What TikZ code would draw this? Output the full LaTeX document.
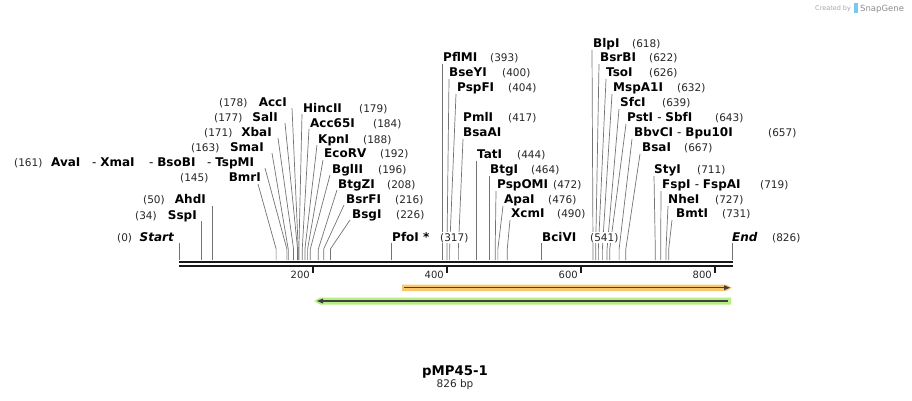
\documentclass[tikz,border=0pt]{standalone}
\usepackage{fontspec}
\setmainfont{DejaVu Sans}
\begin{document}
\begin{tikzpicture}[x=1pt,y=-1pt,
  cutl/.style={draw=black!55,line width=0.7pt},
  nm/.style={font=\bfseries\fontsize{12}{14}\selectfont,inner sep=0pt,anchor=base west},
  nmr/.style={nm,anchor=base east},
  num/.style={font=\fontsize{10.5}{12}\selectfont,text=black!85,fill=white,inner sep=1pt,anchor=base west},
  axisl/.style={draw=black!90,line width=2.2pt},
  tickl/.style={draw=black!90,line width=1.8pt},
  ticklab/.style={font=\fontsize{10}{12}\selectfont,inner sep=0pt,anchor=base east,text=black!85}]
\useasboundingbox (0,0) rectangle (912,400);
\newcommand\sx[1]{179+0.6699*#1}
\newcommand\cutline[2]{\draw[cutl] (#1) -- ({\sx{#2}},249) -- ({\sx{#2}},260);}
\newcommand\vcut[2]{\draw[cutl] ({\sx{#1}},#2) -- ({\sx{#1}},260);}
% cut lines
\vcut{0}{243}
\vcut{34}{221}
\vcut{50}{206}
\cutline{258,184}{145}
\cutline{265,168}{161}
\cutline{272,153}{163}
\cutline{278,138}{171}
\cutline{285,123}{177}
\cutline{292,108}{178}
\cutline{302,114}{179}
\cutline{309,129}{184}
\cutline{317,145}{188}
\cutline{323,160}{192}
\cutline{330,175}{196}
\cutline{337,190}{208}
\cutline{344,205}{216}
\cutline{350,220}{226}
\vcut{317}{243}
\vcut{393}{64}
\cutline{449,79}{400}
\cutline{456,94}{404}
\cutline{463,139}{417}
\vcut{444}{161}
\vcut{464}{176}
\cutline{496,191}{472}
\cutline{503,206}{476}
\cutline{510,220}{490}
\vcut{541}{243}
\cutline{592,50}{618}
\cutline{599,64}{622}
\cutline{606,79}{626}
\cutline{612,94}{632}
\cutline{619,109}{639}
\cutline{626,124}{643}
\cutline{632,139}{657}
\cutline{640,154}{667}
\cutline{654,176}{711}
\cutline{661,191}{719}
\cutline{668,206}{727}
\cutline{672,220}{731}
\vcut{826}{243}
% axis
\coordinate (a0) at (179,262);
\coordinate (a1) at (733,262);
\coordinate (b0) at (179,266);
\coordinate (b1) at (733,266);
\draw[axisl] (a0) -- (a1);
\draw[axisl] (b0) -- (b1);
\foreach \t in {200,400,600,800}{
  \draw[tickl] ({\sx{\t}},266) -- ({\sx{\t}},273);
  \node[ticklab] (tl\t) at ({\sx{\t}-3},278) {\t};
}
% left labels
\node[num] (n178) at (218,106) {(178)};
\node[nmr] (accI) at (287,106) {AccI};
\node[num] (n177) at (213,121) {(177)};
\node[nmr] (salI) at (278,121) {SalI};
\node[num] (n171) at (203,136) {(171)};
\node[nmr] (xbaI) at (272,136) {XbaI};
\node[num] (n163) at (190,151) {(163)};
\node[nmr] (smaI) at (264,151) {SmaI};
\node[num] (n161) at (13,166) {(161)};
\node[nm] (avaI) at (51,166) {AvaI};
\node[nm] (xmaI) at (92,166) {\mdseries -\ \bfseries XmaI};
\node[nm] (bsoBI) at (149,166) {\mdseries -\ \bfseries BsoBI};
\node[nm] (tspMI) at (207,166) {\mdseries -\ \bfseries TspMI};
\node[num] (n145) at (179,181) {(145)};
\node[nmr] (bmrI) at (261,181) {BmrI};
\node[num] (n50) at (142,203) {(50)};
\node[nmr] (ahdI) at (206,203) {AhdI};
\node[num] (n34) at (134,219) {(34)};
\node[nmr] (sspI) at (197,219) {SspI};
\node[num] (n0) at (116,241) {(0)};
\node[nmr] (start) at (174,241) {\itshape Start};
% right cluster
\node[nm] (hincII) at (303,112) {HincII};
\node[num] (n179) at (358,112) {(179)};
\node[nm] (acc65I) at (310,127) {Acc65I};
\node[num] (n184) at (372,127) {(184)};
\node[nm] (kpnI) at (318,143) {KpnI};
\node[num] (n188) at (362,143) {(188)};
\node[nm] (ecoRV) at (324,157) {EcoRV};
\node[num] (n192) at (379,157) {(192)};
\node[nm] (bglII) at (332,173) {BglII};
\node[num] (n196) at (377,173) {(196)};
\node[nm] (btgZI) at (338,188) {BtgZI};
\node[num] (n208) at (386,188) {(208)};
\node[nm] (bsrFI) at (346,203) {BsrFI};
\node[num] (n216) at (394,203) {(216)};
\node[nm] (bsgI) at (352,218) {BsgI};
\node[num] (n226) at (395,218) {(226)};
\node[nm] (pfoI) at (392,241) {PfoI *};
\node[num] (n317) at (439,241) {(317)};
% middle
\node[nm] (pflMI) at (443,61) {PflMI};
\node[num] (n393) at (489,61) {(393)};
\node[nm] (bseYI) at (449,76) {BseYI};
\node[num] (n400) at (501,76) {(400)};
\node[nm] (pspFI) at (457,91) {PspFI};
\node[num] (n404) at (507,91) {(404)};
\node[nm] (pmlI) at (463,121) {PmlI};
\node[num] (n417) at (507,121) {(417)};
\node[nm] (bsaAI) at (463,136) {BsaAI};
\node[nm] (tatI) at (477,158) {TatI};
\node[num] (n444) at (516,158) {(444)};
\node[nm] (btgI) at (490,173) {BtgI};
\node[num] (n464) at (530,173) {(464)};
\node[nm] (pspOMI) at (497,188) {PspOMI};
\node[num] (n472) at (552,188) {(472)};
\node[nm] (apaI) at (504,203) {ApaI};
\node[num] (n476) at (547,203) {(476)};
\node[nm] (xcmI) at (511,217) {XcmI};
\node[num] (n490) at (556,217) {(490)};
\node[nm] (bciVI) at (542,241) {BciVI};
\node[num] (n541) at (589,241) {(541)};
% right
\node[nm] (blpI) at (593,47) {BlpI};
\node[num] (n618) at (631,47) {(618)};
\node[nm] (bsrBI) at (600,61) {BsrBI};
\node[num] (n622) at (648,61) {(622)};
\node[nm] (tsoI) at (606,76) {TsoI};
\node[num] (n626) at (648,76) {(626)};
\node[nm] (mspA1I) at (613,91) {MspA1I};
\node[num] (n632) at (676,91) {(632)};
\node[nm] (sfcI) at (620,106) {SfcI};
\node[num] (n639) at (661,106) {(639)};
\node[nm] (pstI) at (627,121) {PstI \mdseries -\ \bfseries SbfI};
\node[num] (n643) at (714,121) {(643)};
\node[nm] (bbvCI) at (634,136) {BbvCI \mdseries -\ \bfseries Bpu10I};
\node[num] (n657) at (767,136) {(657)};
\node[nm] (bsaI) at (642,151) {BsaI};
\node[num] (n667) at (683,151) {(667)};
\node[nm] (styI) at (654,173) {StyI};
\node[num] (n711) at (696,173) {(711)};
\node[nm] (fspI) at (662,188) {FspI \mdseries -\ \bfseries FspAI};
\node[num] (n719) at (759,188) {(719)};
\node[nm] (nheI) at (668,203) {NheI};
\node[num] (n727) at (714,203) {(727)};
\node[nm] (bmtI) at (676,217) {BmtI};
\node[num] (n731) at (721,217) {(731)};
\node[nm] (endl) at (732,241) {\itshape End};
\node[num] (n826) at (771,241) {(826)};
% features
\fill[fill={rgb,255:red,249;green,199;blue,112}] (402,284.5) -- (726,284.5) -- (732,287.7) -- (726,291) -- (402,291) -- cycle;
\coordinate (o0) at (404,287.7);
\coordinate (o1) at (729,287.7);
\draw[draw=black!75,line width=1.4pt] (o0) -- (726,287.7);
\fill[black!75] (730,287.7) -- (724,285.2) -- (724,290.2) -- cycle;
\fill[fill={rgb,255:red,182;green,238;blue,132}] (314,301) -- (320,297.5) -- (731,297.5) -- (731,304.5) -- (320,304.5) -- cycle;
\coordinate (g0) at (317,301);
\coordinate (g1) at (728,301);
\draw[draw=black!75,line width=1.4pt] (320,301) -- (g1);
\fill[black!75] (g0) -- (323,298.5) -- (323,303.5) -- cycle;
% title
\node[font=\bfseries\fontsize{13.3}{15}\selectfont,inner sep=0pt,anchor=base] (title) at (455,375) {pMP45-1};
\node[font=\fontsize{10.5}{12}\selectfont,inner sep=0pt,anchor=base,text=black!85] (bp) at (455,387) {826 bp};
% logo
\node[font=\fontsize{6.5}{8}\selectfont,text=black!35,inner sep=0pt,anchor=base west] (cb) at (815,10.5) {Created by};
\fill[fill={rgb,255:red,120;green,200;blue,240}] (853.5,3) rectangle (857.5,12.5);
\node[font=\fontsize{8.5}{10}\selectfont,text=black!45,inner sep=0pt,anchor=base west] (sg) at (860,11) {SnapGene};
\end{tikzpicture}
\end{document}
